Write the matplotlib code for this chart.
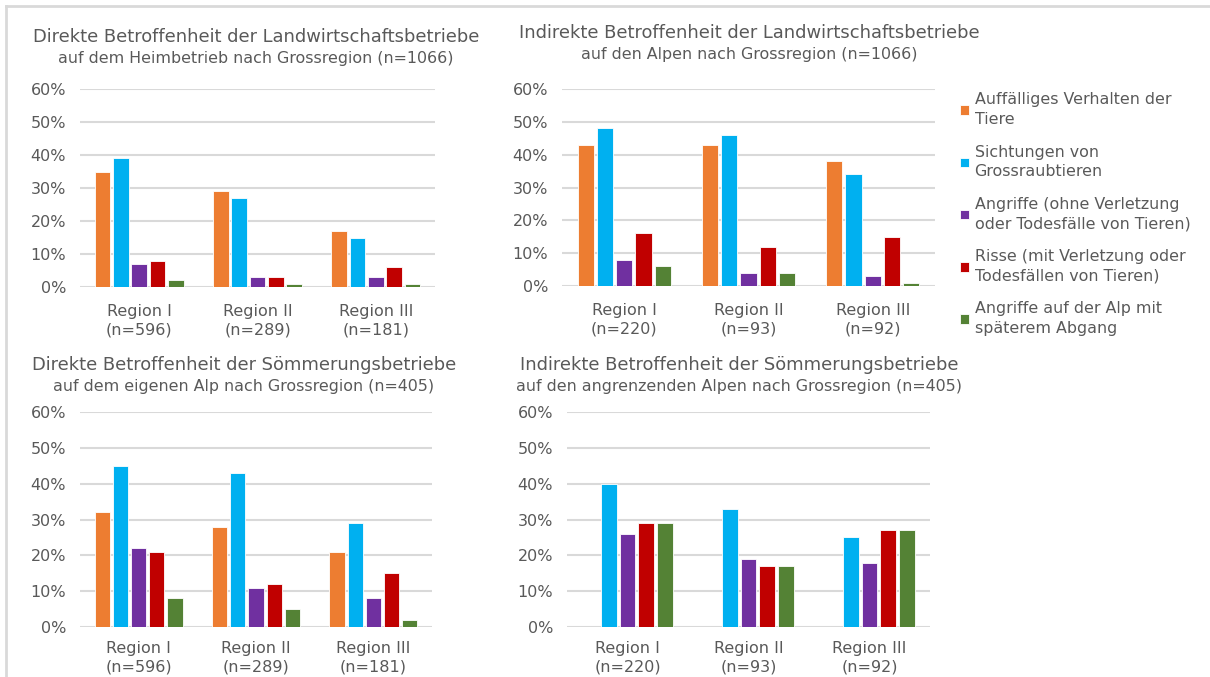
import numpy as np
import matplotlib
matplotlib.use('Agg')
import matplotlib.pyplot as plt
from matplotlib.lines import Line2D

# data (percent)
regions_top = ['Region I\n(n=596)', 'Region II\n(n=289)', 'Region III\n(n=181)']
regions_alp = ['Region I\n(n=220)', 'Region II\n(n=93)', 'Region III\n(n=92)']

series_names = ['Auffälliges Verhalten der\nTiere',
                'Sichtungen von\nGrossraubtieren',
                'Angriffe (ohne Verletzung\noder Todesfälle von Tieren)',
                'Risse (mit Verletzung oder\nTodesfällen von Tieren)',
                'Angriffe auf der Alp mit\nspäterem Abgang']
colors = ['#ED7D31', '#00B0F0', '#7030A0', '#C00000', '#548235']

# rows = regions, columns = series
direkt_lw = [[35, 39, 7, 8, 2],
             [29, 27, 3, 3, 1],
             [17, 15, 3, 6, 1]]
indirekt_lw = [[43, 48, 8, 16, 6],
               [43, 46, 4, 12, 4],
               [38, 34, 3, 15, 1]]
direkt_so = [[32, 45, 22, 21, 8],
             [28, 43, 11, 12, 5],
             [21, 29, 8, 15, 2]]
indirekt_so = [[np.nan, 40, 26, 29, 29],
               [np.nan, 33, 19, 17, 17],
               [np.nan, 25, 18, 27, 27]]

titles = ['Direkte Betroffenheit der Landwirtschaftsbetriebe',
          'Indirekte Betroffenheit der Landwirtschaftsbetriebe',
          'Direkte Betroffenheit der Sömmerungsbetriebe',
          'Indirekte Betroffenheit der Sömmerungsbetriebe']
subtitles = ['auf dem Heimbetrieb nach Grossregion (n=1066)',
             'auf den Alpen nach Grossregion (n=1066)',
             'auf dem eigenen Alp nach Grossregion (n=405)',
             'auf den angrenzenden Alpen nach Grossregion (n=405)']

W, H = 1210, 677
txt = '#595959'
grid = '#D9D9D9'


def px_axes(fig, x0, x1, y0, y1):
    return fig.add_axes([x0 / W, 1 - y1 / H, (x1 - x0) / W, (y1 - y0) / H])


def draw_panel(ax, data, labels, xpad):
    data = np.array(data, dtype=float)
    x = np.arange(len(labels))
    slot = 0.155
    for i in range(data.shape[1]):
        ax.bar(x + (i - 2) * slot, data[:, i], width=0.13, color=colors[i],
               edgecolor='white', linewidth=0.6, label=series_names[i], zorder=3)
    ax.set_xlim(-0.5, len(labels) - 0.5)
    ax.set_ylim(0, 60)
    ax.set_yticks(range(0, 61, 10))
    ax.set_yticklabels([f'{v}%' for v in range(0, 61, 10)])
    ax.set_xticks(x)
    ax.set_xticklabels(labels, linespacing=1.3)
    ax.tick_params(axis='y', length=0, pad=10, labelsize=11.5, labelcolor=txt)
    ax.tick_params(axis='x', length=0, pad=xpad, labelsize=11.5, labelcolor=txt)
    ax.grid(axis='y', color=grid, linewidth=1.5, zorder=0)
    for s in ax.spines.values():
        s.set_visible(False)


def main():
    plt.rcParams['font.family'] = ['DejaVu Sans']
    fig = plt.figure(figsize=(W / 100, H / 100), dpi=100)

    ax1 = px_axes(fig, 80, 435, 89, 287)
    ax2 = px_axes(fig, 562, 935, 89, 286)
    ax3 = px_axes(fig, 80, 432, 412, 627)
    ax4 = px_axes(fig, 567, 930, 412, 627)

    draw_panel(ax1, direkt_lw, regions_top, 12)
    draw_panel(ax2, indirekt_lw, regions_alp, 12)
    draw_panel(ax3, direkt_so, regions_top, 10)
    draw_panel(ax4, indirekt_so, regions_alp, 10)

    # titles (pixel centers)
    pos = [(256, 37, 58), (749, 33, 55), (244, 365, 387), (739, 365, 386)]
    for (cx, ty, sy), t, s in zip(pos, titles, subtitles):
        fig.text(cx / W, 1 - ty / H, t, ha='center', va='center', fontsize=12.9, color=txt)
        fig.text(cx / W, 1 - sy / H, s, ha='center', va='center', fontsize=11.4, color=txt)

    handles, labels = ax1.get_legend_handles_labels()
    leg = fig.legend(handles, labels, loc='upper left', bbox_to_anchor=(954 / W, 1 - 86 / H),
                     frameon=False, fontsize=11.4, handlelength=0.55, handleheight=0.55,
                     handletextpad=0.35, labelspacing=1.1, borderaxespad=0)
    for t in leg.get_texts():
        t.set_color(txt)
        t.set_linespacing(1.4)

    # outer frame (top and left only)
    fig.add_artist(Line2D([6 / W, 1], [1 - 6 / H, 1 - 6 / H], color='#D9D9D9', linewidth=2,
                          transform=fig.transFigure))
    fig.add_artist(Line2D([6 / W, 6 / W], [0, 1 - 6 / H], color='#D9D9D9', linewidth=2,
                          transform=fig.transFigure))

    fig.savefig('out.png', dpi=100, facecolor='white')


if __name__ == '__main__':
    main()
